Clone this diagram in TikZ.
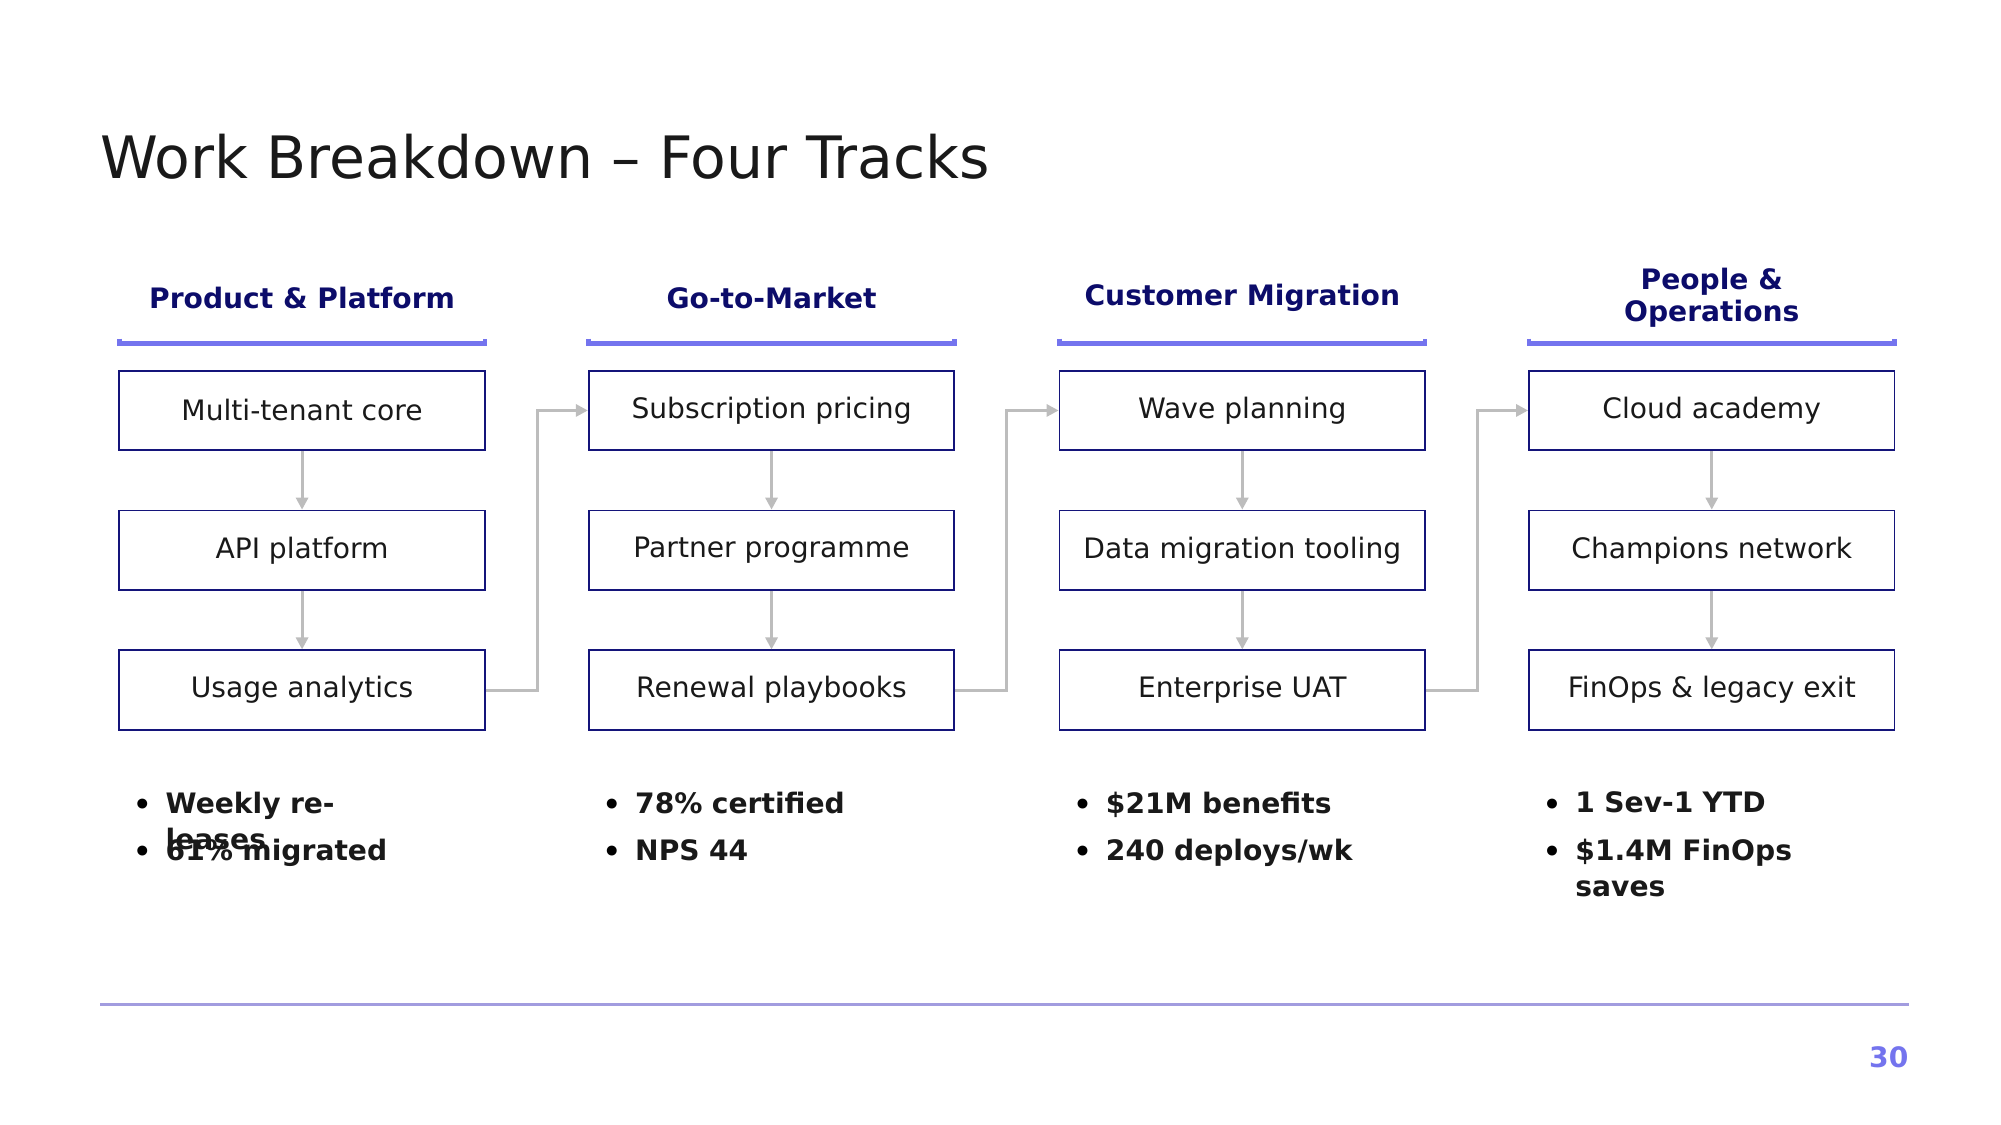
\documentclass[tikz,border=0pt]{standalone}
\usepackage{fontspec}
\setmainfont{DejaVu Sans}
\usetikzlibrary{arrows.meta}
\definecolor{navy}{HTML}{14147A}
\definecolor{hdr}{HTML}{0C0C6A}
\definecolor{accent}{HTML}{7474EE}
\definecolor{rule}{HTML}{A29CDF}
\definecolor{conn}{HTML}{BDBDBD}
\begin{document}
\begin{tikzpicture}[x=0.957pt,y=-0.957pt,
  box/.style={draw=navy,line width=1.3pt,minimum width=285*0.957pt,minimum height=62*0.957pt,inner sep=0pt,font=\fontsize{21}{25}\selectfont,text=black!90},
  head/.style={font=\fontsize{21}{24}\selectfont\bfseries,text=hdr,align=center},
  bul/.style={font=\fontsize{21}{27}\selectfont\bfseries,text=black!90,anchor=north west,align=left,text width=200*0.957pt,inner sep=0pt},
  arr/.style={draw=conn,line width=2.2pt,-{Triangle[length=9pt,width=9pt]}},
  hl/.style={draw=accent,line width=3.5pt}]
\useasboundingbox (0,0) rectangle (1560,877);
\node[anchor=west,font=\fontsize{43.6}{50}\selectfont,text=black!90,inner sep=0pt] (title) at (78,122) {Work Breakdown – Four Tracks};
\foreach \c/\x/\h/\a/\b/\cc/\ba/\bb in {
 1/93/{Product \& Platform}/{Multi-tenant core}/{API platform}/{Usage analytics}/{Weekly releases}/{61\% migrated},
 2/459/{Go-to-Market}/{Subscription pricing}/{Partner programme}/{Renewal playbooks}/{78\% certified}/{NPS 44},
 3/826/{Customer Migration}/{Wave planning}/{Data migration tooling}/{Enterprise UAT}/{\$21M benefits}/{240 deploys/wk},
 4/1192/{People \&\\Operations}/{Cloud academy}/{Champions network}/{FinOps \& legacy exit}/{1 Sev-1 YTD}/{\$1.4M FinOps saves}}{
  \node[head] (h\c) at (\x+142.5,232) {\h};
  \draw[hl] (\x,264) -- (\x,268) -- (\x+285,268) -- (\x+285,264);
  \node[box] (a\c) at (\x+142.5,320) {\a};
  \node[box] (b\c) at (\x+142.5,429) {\b};
  \node[box] (c\c) at (\x+142.5,538) {\cc};
  \draw[arr] (a\c) -- (b\c);
  \draw[arr] (b\c) -- (c\c);
  \node[bul] (p\c) at (\x+36,617) {\ba};
  \node[bul] (q\c) at (\x+36,654) {\bb};
  \node[font=\fontsize{21}{25}\selectfont\bfseries] (d\c) at (\x+18,629) {•};
  \node[font=\fontsize{21}{25}\selectfont\bfseries] (e\c) at (\x+18,666) {•};
}
\foreach \i/\j in {1/2,2/3,3/4}{
  \draw[arr] (c\i.east) -- ++(40,0) |- (a\j.west);
}
\draw[draw=rule,line width=2.5pt] (78,783) -- (1488,783);
\node[anchor=east,font=\fontsize{21}{25}\selectfont\bfseries,text=accent,inner sep=0pt] (pg) at (1488,824) {30};
\end{tikzpicture}
\end{document}
